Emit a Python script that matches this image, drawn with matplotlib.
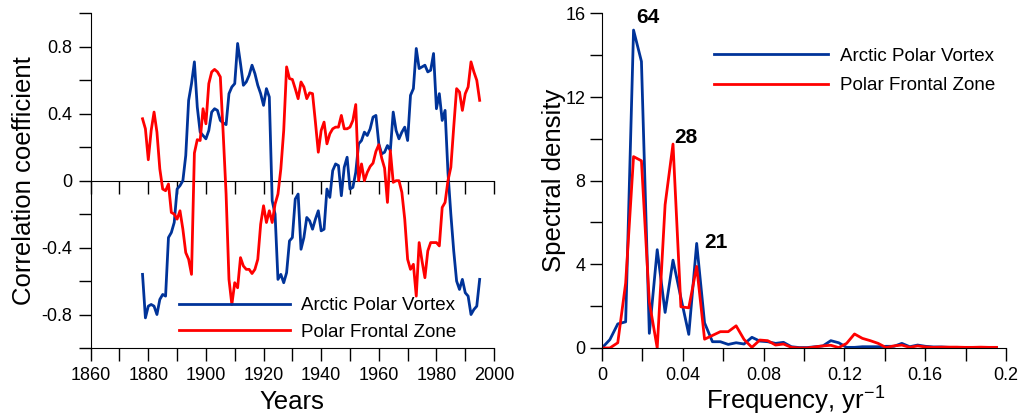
import numpy as np
import matplotlib
matplotlib.use('Agg')
import matplotlib.pyplot as plt
from matplotlib.ticker import MultipleLocator, FixedLocator, FuncFormatter

plt.rcParams['font.family'] = ['Liberation Sans', 'DejaVu Sans']
plt.rcParams['mathtext.fontset'] = 'custom'
plt.rcParams['mathtext.rm'] = 'Liberation Sans'

# --- data: running correlation, 1878-1995 ---
years = np.arange(1878, 1996)

apv_corr = [
    -0.56, -0.82,
    -0.75, -0.74, -0.75, -0.80, -0.71, -0.68, -0.69, -0.34, -0.31, -0.25,
    -0.05, -0.03, 0.00, 0.15, 0.48, 0.58, 0.71, 0.44, 0.29, 0.27,
    0.25, 0.30, 0.41, 0.43, 0.42, 0.36, 0.345, 0.335, 0.52, 0.56,
    0.58, 0.82, 0.70, 0.57, 0.59, 0.63, 0.69, 0.64, 0.57, 0.52,
    0.45, 0.55, 0.50, -0.12, -0.20, -0.59, -0.56, -0.61, -0.55, -0.36,
    -0.34, -0.11, -0.08, -0.41, -0.34, -0.22, -0.24, -0.29, -0.23, -0.18,
    -0.30, -0.29, -0.05, -0.10, 0.06, 0.10, 0.09, -0.09, 0.08, 0.14,
    -0.05, -0.04, 0.05, 0.22, 0.24, 0.29, 0.27, 0.31, 0.38, 0.39,
    0.22, 0.16, 0.17, 0.21, 0.18, 0.41, 0.30, 0.25, 0.29, 0.32,
    0.24, 0.51, 0.55, 0.79, 0.67, 0.68, 0.69, 0.65, 0.66, 0.76,
    0.43, 0.52, 0.36, 0.42, 0.05, -0.20, -0.42, -0.60, -0.65, -0.59,
    -0.67, -0.69, -0.80, -0.77, -0.75, -0.59,
]

pfz_corr = [
    0.37, 0.31,
    0.125, 0.30, 0.41, 0.29, 0.07, -0.05, -0.06, -0.02, -0.19, -0.20,
    -0.23, -0.18, -0.29, -0.43, -0.47, -0.56, 0.165, 0.245, 0.24, 0.43,
    0.34, 0.58, 0.65, 0.665, 0.65, 0.62, 0.28, -0.08, -0.59, -0.74,
    -0.61, -0.64, -0.46, -0.51, -0.53, -0.53, -0.555, -0.53, -0.47, -0.26,
    -0.15, -0.25, -0.18, -0.25, -0.14, -0.08, 0.07, 0.30, 0.68, 0.61,
    0.605, 0.55, 0.49, 0.59, 0.56, 0.49, 0.525, 0.52, 0.35, 0.17,
    0.30, 0.35, 0.22, 0.28, 0.31, 0.32, 0.32, 0.39, 0.31, 0.31,
    0.32, 0.36, 0.455, 0.00, 0.10, 0.00, 0.05, 0.085, 0.105, 0.175,
    0.215, 0.135, 0.075, -0.13, 0.18, -0.01, 0.00, 0.00, -0.07, -0.23,
    -0.47, -0.53, -0.50, -0.69, -0.37, -0.48, -0.58, -0.42, -0.37, -0.37,
    -0.37, -0.39, -0.16, -0.13, 0.00, 0.08, 0.32, 0.55, 0.53, 0.42,
    0.52, 0.56, 0.71, 0.65, 0.60, 0.48,
]

# --- data: spectra, frequency step 1/256 yr^-1 ---
freq = np.arange(51) / 256.0

apv_spec = [
    0.0, 0.4, 1.15, 1.25, 15.2, 13.7, 0.7, 4.7, 1.7, 4.2,
    2.4, 0.65, 5.0, 1.2, 0.3, 0.3, 0.17, 0.25, 0.19, 0.51,
    0.33, 0.30, 0.22, 0.27, 0.06, 0.02, 0.02, 0.06, 0.10, 0.35,
    0.25, 0.03, 0.03, 0.06, 0.06, 0.06, 0.08, 0.08, 0.22, 0.06,
    0.14, 0.08, 0.05, 0.05, 0.03, 0.03, 0.02, 0.02, 0.02, 0.02,
    0.02,
]

pfz_spec = [
    0.0, 0.0, 0.25, 3.1, 9.15, 8.95, 2.2, 0.0, 6.85, 9.75,
    1.97, 1.92, 3.9, 0.42, 0.6, 0.78, 0.78, 1.06, 0.41, 0.03,
    0.38, 0.35, 0.14, 0.19, 0.03, 0.0, 0.0, 0.05, 0.10, 0.13,
    0.02, 0.22, 0.67, 0.46, 0.35, 0.22, 0.02, 0.10, 0.14, 0.03,
    0.10, 0.05, 0.03, 0.04, 0.04, 0.04, 0.03, 0.03, 0.04, 0.03,
    0.03,
]

# peaks to label: (index in spectrum, period text)
peak_labels = [(4, '64'), (9, '28'), (12, '21')]

labels = ['Arctic Polar Vortex', 'Polar Frontal Zone']
blue = '#003399'
red = '#ff0000'

fig = plt.figure(figsize=(10.21, 4.17), dpi=100)
ax1 = fig.add_axes([0.0888, 0.1655, 0.3951, 0.8025])
ax2 = fig.add_axes([0.5896, 0.1655, 0.3957, 0.8025])

fmt = FuncFormatter(lambda v, p: '%g' % round(v, 4))
tick_kw = dict(which='both', direction='out', length=9, width=1.0, labelsize=13)

# left panel
ax1.plot(years, apv_corr, color=blue, lw=2.0, label=labels[0])
ax1.plot(years, pfz_corr, color=red, lw=2.0, label=labels[1])
ax1.set_xlim(1860, 2000)
ax1.set_ylim(-1, 1)
ax1.xaxis.set_major_locator(MultipleLocator(20))
ax1.xaxis.set_minor_locator(MultipleLocator(10))
ax1.yaxis.set_major_locator(FixedLocator([-0.8, -0.4, 0, 0.4, 0.8]))
ax1.yaxis.set_minor_locator(MultipleLocator(0.2))
ax1.xaxis.set_major_formatter(fmt)
ax1.yaxis.set_major_formatter(fmt)
ax1.tick_params(**tick_kw)
ax1.tick_params(axis='x', pad=5)
ax1.tick_params(axis='y', pad=4)
for s in ['top', 'right']:
    ax1.spines[s].set_visible(False)

# zero line with its own ticks
zero_ax = ax1.secondary_xaxis(0.5)
zero_ax.xaxis.set_major_locator(MultipleLocator(10))
zero_ax.tick_params(axis='x', which='both', direction='in', length=9, width=1.0,
                    labeltop=False, labelbottom=False)

ax1.set_xlabel('Years', fontsize=18.5)
ax1.set_ylabel('Correlation coefficient', fontsize=18.5)
ax1.xaxis.set_label_coords(0.5, -0.125)
ax1.yaxis.set_label_coords(-0.135, 0.5)

leg1 = ax1.legend(loc='center left', bbox_to_anchor=(179 / 1021, 1 - 319 / 417),
                  bbox_transform=fig.transFigure, frameon=False, fontsize=13.5,
                  handlelength=5.9, handletextpad=0.6, labelspacing=0.5,
                  borderpad=0, borderaxespad=0)

# right panel
ax2.plot(freq, apv_spec, color=blue, lw=2.0, label=labels[0])
ax2.plot(freq, pfz_spec, color=red, lw=2.0, label=labels[1])
ax2.set_xlim(0, 0.2)
ax2.set_ylim(0, 16)
ax2.xaxis.set_major_locator(MultipleLocator(0.04))
ax2.xaxis.set_minor_locator(MultipleLocator(0.02))
ax2.yaxis.set_major_locator(MultipleLocator(4))
ax2.yaxis.set_minor_locator(MultipleLocator(2))
ax2.xaxis.set_major_formatter(fmt)
ax2.yaxis.set_major_formatter(fmt)
ax2.tick_params(**tick_kw)
ax2.tick_params(axis='x', pad=5)
ax2.tick_params(axis='y', pad=3)
for s in ['top', 'right']:
    ax2.spines[s].set_visible(False)

ax2.set_xlabel('Frequency, yr$^{-1}$', fontsize=18.5)
ax2.set_ylabel('Spectral density', fontsize=18.5)
ax2.xaxis.set_label_coords(0.48, -0.105)
ax2.yaxis.set_label_coords(-0.09, 0.5)

offsets = {'64': (10.5, 9), '28': (9.5, 5), '21': (14, 1)}
for idx, txt in peak_labels:
    series = apv_spec if txt != '28' else pfz_spec
    ax2.annotate(txt, (freq[idx], series[idx]), xytext=offsets[txt],
                 textcoords='offset points', ha='center', va='center',
                 fontsize=15, fontweight='bold')

leg2 = ax2.legend(loc='center left', bbox_to_anchor=(714 / 1021, 1 - 71 / 417),
                  bbox_transform=fig.transFigure, frameon=False, fontsize=13.5,
                  handlelength=6.1, handletextpad=0.6, labelspacing=0.65,
                  borderpad=0, borderaxespad=0)

fig.savefig('out.png', dpi=100)
